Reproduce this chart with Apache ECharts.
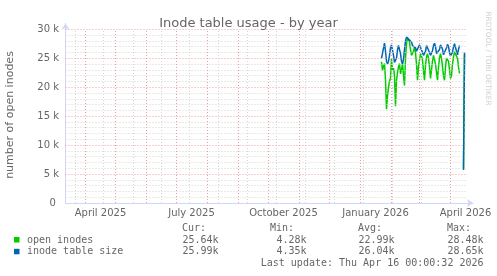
<!DOCTYPE html>
<html><head><meta charset="utf-8">
<script src="https://cdn.jsdelivr.net/npm/echarts@6/dist/echarts.min.js"></script>
<style>html,body{margin:0;padding:0;background:#fff}#c{width:497px;height:276px}</style>
</head><body><div id="c"></div>
<script>
// ---------- data ----------
const rangeStart = '2025-03-12';
const rangeEnd = '2026-04-16';
const dataStart = '2026-01-22';           // first daily sample
const seriesNames = ['open inodes', 'inode table size'];
const seriesColors = ['#00CC00', '#0066B3'];
// daily values, in thousands (k)
const openInodes = [24.4,22.9,23.6,24.1,21.2,16.2,18.5,20.0,21.0,21.6,
 24.9,22.9,23.3,22.0,16.7,21.2,22.5,23.5,24.1,22.3,
 23.0,24.1,22.0,20.3,25.0,27.5,28.48,28.4,27.8,26.5,
 25.5,25.2,26.2,26.9,26.0,24.0,21.2,23.5,24.7,25.8,
 25.4,24.7,22.8,21.2,23.8,25.2,25.8,25.0,23.5,21.5,
 23.0,24.5,25.5,25.5,24.0,22.5,21.2,23.5,25.0,25.8,
 25.0,23.5,22.0,21.2,23.5,25.0,25.2,24.5,23.0,21.5,
 22.0,24.0,25.2,26.1,26.4,26.0,25.0,23.5,22.4,
 null,null,null,5.7,25.64];
const tableSize = [25.0,25.8,26.8,27.6,26.2,24.5,24.0,24.5,25.5,26.8,
 27.3,27.2,25.5,24.3,24.0,25.0,26.5,27.2,27.2,25.8,
 24.5,24.0,24.8,26.5,28.0,28.65,28.6,28.3,28.4,28.5,
 27.8,27.2,27.4,27.3,26.8,26.2,25.9,26.5,27.3,27.6,
 27.2,26.0,25.5,25.3,26.2,27.2,27.4,27.0,26.0,25.5,
 25.4,26.3,27.2,27.6,27.0,25.8,25.5,25.6,26.5,27.3,
 27.4,26.6,25.6,25.3,25.8,26.8,27.4,27.0,26.0,25.4,
 25.3,26.0,27.0,27.5,27.2,26.2,25.6,26.5,27.2,
 null,null,null,5.8,25.99];
const xLabelDates = ['2025-04-16','2025-07-16','2025-10-16','2026-01-16','2026-04-16'];
const monthStarts = ['2025-04-01','2025-05-01','2025-06-01','2025-07-01','2025-08-01','2025-09-01',
 '2025-10-01','2025-11-01','2025-12-01','2026-01-01','2026-02-01','2026-03-01','2026-04-01'];
const minorDates = ['2025-03-22','2025-04-19','2025-05-19','2025-06-16','2025-07-14','2025-08-12',
 '2025-09-10','2025-10-09','2025-11-07','2025-12-06','2026-01-04','2026-02-02','2026-03-03','2026-04-01'];
const yTicks = [0,5000,10000,15000,20000,25000,30000];
const yMinor = [1000,2000,3000,4000,6000,7000,8000,9000,11000,12000,13000,14000,16000,17000,18000,19000,
 21000,22000,23000,24000,26000,27000,28000,29000];
const statHeaders = ['Cur:','Min:','Avg:','Max:'];
const openStats = ['25.64k','4.28k','22.99k','28.48k'];
const sizeStats = ['25.99k','4.35k','26.04k','28.65k'];
const lastUpdate = 'Last update: Thu Apr 16 00:00:32 2026';
const titleText = 'Inode table usage - by year';
const yName = 'number of open inodes';
const watermark = 'RRDTOOL / TOBI OETIKER';

// ---------- build ----------
const DAY = 86400000;
const t = s => Date.parse(s + 'T00:00:00Z');
const T0 = t(rangeStart), T1 = t(rangeEnd), D0 = t(dataStart);
const MONTHS = ['January','February','March','April','May','June','July','August','September','October','November','December'];
const toPairs = arr => arr.map((v, i) => [D0 + i * DAY, v == null ? null : v * 1000]);

const vLine = (d) => [{coord: [t(d), 0]}, {coord: [t(d), 30000]}];
const hLine = (v) => [{coord: [T0, v]}, {coord: [T1, v]}];

const chart = echarts.init(document.getElementById('c'), null, {renderer: 'canvas'});
const FONT = 'DejaVu Sans';
const MONO = 'DejaVu Sans Mono';
const TXT = '#666666';

const legendCols = [182, 270, 358, 447];
const graphic = [];
statHeaders.forEach((h, i) => graphic.push({type: 'text', silent: true,
  style: {text: h, x: legendCols[i], y: 228, font: '10px "' + MONO + '"', fill: TXT, align: 'left', verticalAlign: 'middle'}}));
[openStats, sizeStats].forEach((row, r) => {
  graphic.push({type: 'rect', silent: true, shape: {x: 14, y: 237 + r * 11.8, width: 5.5, height: 5.5}, style: {fill: seriesColors[r]}});
  graphic.push({type: 'text', silent: true,
    style: {text: seriesNames[r], x: 27, y: 240 + r * 11.8, font: '10px "' + MONO + '"', fill: TXT, align: 'left', verticalAlign: 'middle'}});
  row.forEach((v, i) => graphic.push({type: 'text', silent: true,
    style: {text: v, x: legendCols[i] + 36.5, y: 240 + r * 11.8, font: '10px "' + MONO + '"', fill: TXT, align: 'right', verticalAlign: 'middle'}}));
});
graphic.push({type: 'text', silent: true,
  style: {text: lastUpdate, x: 483.5, y: 263.5, font: '10px "' + MONO + '"', fill: TXT, align: 'right', verticalAlign: 'middle'}});
graphic.push({type: 'text', silent: true, x: 10.5, y: 115, rotation: Math.PI / 2,
  style: {text: yName, x: 0, y: 0, font: '11px "' + FONT + '"', fill: TXT, align: 'center', verticalAlign: 'middle'}});
graphic.push({type: 'text', silent: true, x: 487.5, y: 58.5, rotation: -Math.PI / 2,
  style: {text: watermark, x: 0, y: 0, font: '7.3px "' + FONT + '"', fill: '#d1d1d1', align: 'center', verticalAlign: 'middle'}});

const gridSeries = (color, lines, z) => ({
  type: 'line', data: [], silent: true, z: z, animation: false,
  markLine: {silent: true, symbol: 'none', animation: false, label: {show: false},
    lineStyle: {color: color, width: 1, type: [1, 2]}, emphasis: {disabled: true}, data: lines}
});

chart.setOption({
  backgroundColor: '#ffffff',
  animation: false,
  title: {text: titleText, left: 'center', top: 12,
    textStyle: {fontSize: 13, fontWeight: 'normal', color: TXT, fontFamily: FONT}},
  grid: {left: 65.5, right: 24, top: 23.5, bottom: 73, containLabel: false},
  xAxis: {type: 'value', min: T0, max: T1 + 7.5 * DAY,
    axisLine: {show: true, lineStyle: {color: '#CFD6F8', width: 1}, symbol: ['none', 'arrow'], symbolSize: [6, 6]},
    axisTick: {show: false},
    splitLine: {show: false},
    axisLabel: {customValues: xLabelDates.map(t), margin: 5, color: TXT, fontSize: 10, fontFamily: FONT,
      formatter: v => { const d = new Date(v); return MONTHS[d.getUTCMonth()] + ' ' + d.getUTCFullYear(); }}
  },
  yAxis: {type: 'value', min: 0, max: 31000,
    axisLine: {show: true, lineStyle: {color: '#CFD6F8', width: 1}, symbol: ['none', 'arrow'], symbolSize: [6, 6]},
    axisTick: {show: false, customValues: yTicks},
    splitLine: {show: false},
    axisLabel: {customValues: yTicks, margin: 6.5, color: TXT, fontSize: 10, fontFamily: FONT,
      formatter: v => v === 0 ? '0 ' : (v / 1000) + ' k'}
  },
  graphic: graphic,
  series: [
    gridSeries('#d4d4d4', minorDates.map(vLine).concat(yMinor.map(hLine)), 1),
    gridSeries('#ef9f9f', monthStarts.map(vLine).concat(yTicks.slice(1).map(hLine)), 2),
    {name: seriesNames[0], type: 'line', z: 3, data: toPairs(openInodes), showSymbol: false, connectNulls: false,
      lineStyle: {color: seriesColors[0], width: 1.5}, itemStyle: {color: seriesColors[0]}, animation: false},
    {name: seriesNames[1], type: 'line', z: 4, data: toPairs(tableSize), showSymbol: false, connectNulls: false,
      lineStyle: {color: seriesColors[1], width: 1.5}, itemStyle: {color: seriesColors[1]}, animation: false}
  ]
});
</script></body></html>
